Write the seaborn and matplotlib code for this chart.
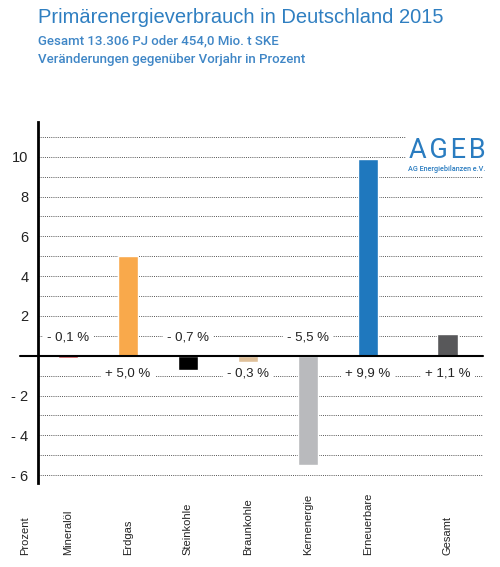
import matplotlib
matplotlib.use("Agg")
import numpy as np
import pandas as pd
import seaborn as sns
import matplotlib.pyplot as plt
from matplotlib.ticker import MultipleLocator

# Daten
categories = ["Mineralöl", "Erdgas", "Steinkohle", "Braunkohle", "Kernenergie", "Erneuerbare", "Gesamt"]
values = [-0.1, 5.0, -0.7, -0.3, -5.5, 9.9, 1.1]
value_labels = ["- 0,1 %", "+ 5,0 %", "- 0,7 %", "- 0,3 %", "- 5,5 %", "+ 9,9 %", "+ 1,1 %"]
label_above = [True, False, True, False, True, False, False]
positions = [0, 1, 2, 3, 4, 5, 6.33]
colors = ["#c1272d", "#f9a94b", "#000000", "#dfc09a", "#b9babd", "#1f78be", "#58585a"]
ytick_values = [-6, -4, -2, 2, 4, 6, 8, 10]
ytick_labels = ["- 6", "- 4", "- 2", "2", "4", "6", "8", "10"]

sns.set_style("white")
narrow = ["Liberation Sans", "DejaVu Sans"]
head = ["Liberation Sans", "DejaVu Sans"]
robo = ["Roboto", "DejaVu Sans"]
plt.rcParams["font.family"] = head

df = pd.DataFrame({"pos": positions, "wert": values, "kat": categories})

fig = plt.figure(figsize=(5, 5.67), dpi=100)
ax = fig.add_axes([0.076, 0.148, 0.89, 0.637])

sns.barplot(data=df, x="pos", y="wert", hue="kat", palette=colors, native_scale=True,
            width=0.34, dodge=False, legend=False, saturation=1, ax=ax, zorder=3)

ax.set_xlim(-0.5, 6.92)
ax.set_ylim(-6.4, 11.75)

# Gitterlinien
ax.yaxis.set_minor_locator(MultipleLocator(1))
ax.grid(axis="y", which="both", linestyle=(0, (1, 1.2)), color="#555555", linewidth=0.7, zorder=0)
ax.set_axisbelow(True)
ax.set_yticks(ytick_values)
ax.set_yticklabels(ytick_labels, fontsize=10.5, family=narrow, color="#222222")
ax.tick_params(axis="y", which="both", length=0, pad=7)
ax.set_xticks([])
ax.set_xlabel("")
ax.set_ylabel("")

for s in ["top", "right", "bottom"]:
    ax.spines[s].set_visible(False)
ax.spines["left"].set_linewidth(2)
ax.spines["left"].set_color("black")

ax.axhline(0, xmin=-0.04, xmax=1.0, color="black", linewidth=1.5, clip_on=False, zorder=4)

# Wertebeschriftungen
for p, up, lab in zip(positions, label_above, value_labels):
    y = 0.9 if up else -0.9
    ax.text(p, y, lab, ha="center", va="center", fontsize=9.5, family=narrow, color="#222222",
            bbox=dict(facecolor="white", edgecolor="none", pad=3), zorder=2)

# Kategorienbeschriftungen
for p, c in zip(positions, categories):
    ax.text(p, -0.2, c, transform=ax.get_xaxis_transform(), rotation=90, ha="center", va="bottom",
            fontsize=8, family=head, color="#222222")
ax.text(-0.72, -0.2, "Prozent", transform=ax.get_xaxis_transform(), rotation=90, ha="center",
        va="bottom", fontsize=8, family=head, color="#222222")

# Logo
ax.text(6.32, 9.92, "A\u200aG\u200aE\u200aB", ha="center", va="baseline", fontsize=19.5, family=robo,
        color="#2a7cc0", fontweight="normal", bbox=dict(facecolor="white", edgecolor="none", pad=2), zorder=5)
ax.text(6.32, 9.3, "AG Energiebilanzen e.V.", ha="center", va="baseline", fontsize=5.2, family=robo,
        color="#2a7cc0", fontweight="medium", bbox=dict(facecolor="white", edgecolor="none", pad=1), zorder=5)

# Titel
fig.text(0.076, 1 - 23 / 567, "Primärenergieverbrauch in Deutschland 2015", fontsize=14.5,
         family=head, color="#2f7fc1", va="baseline")
fig.text(0.076, 1 - 44 / 567, "Gesamt 13.306 PJ oder 454,0 Mio. t SKE", fontsize=9.5,
         family=robo, fontweight="medium", color="#3f86c6", va="baseline")
fig.text(0.076, 1 - 63 / 567, "Veränderungen gegenüber Vorjahr in Prozent", fontsize=9.5,
         family=robo, fontweight="medium", color="#3f86c6", va="baseline")

fig.savefig("out.png", dpi=100, facecolor="white")
